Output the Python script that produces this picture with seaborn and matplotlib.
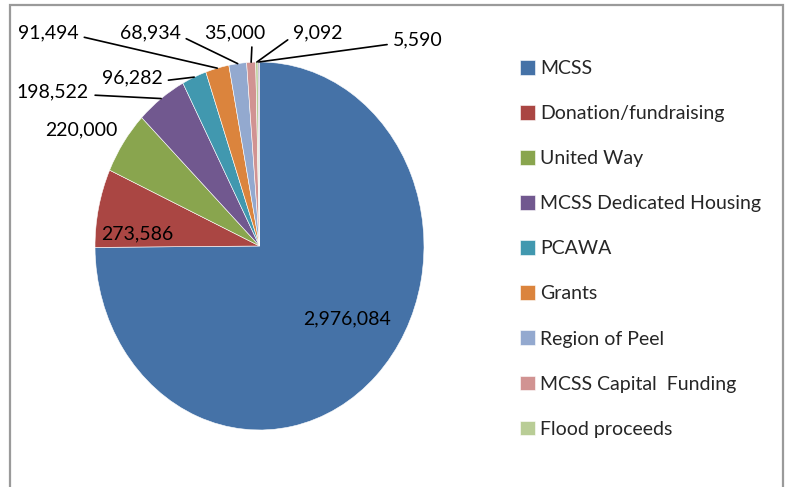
import matplotlib
matplotlib.use("Agg")
import matplotlib.pyplot as plt
from matplotlib.patches import Rectangle
import numpy as np
import seaborn as sns

# data
sources = ["MCSS", "Donation/fundraising", "United Way", "MCSS Dedicated Housing",
           "PCAWA", "Grants", "Region of Peel", "MCSS Capital  Funding",
           "Flood proceeds", ""]
amounts = [2976084, 273586, 220000, 198522, 96282, 91494, 68934, 35000, 9092, 5590]
colors = ["#4572A7", "#AA4643", "#89A54E", "#71588F", "#4198AF",
          "#DB843D", "#93A9CF", "#D19392", "#B9CD96", "#A99BBD"]

# label anchor (figure pixels, baseline) and where the leader line leaves the text
label_pos = [(347, 163), (137, 248), (81, 352), (53, 390), (132, 404),
             (48, 449), (150, 449), (235, 449), (318, 449), (418, 442)]
leader = [None, None, None, (1, 0.3), (1, 0.3),
          (1, 0.3), (1, 0.3), (0.78, 0.0), (0, 0.3), (0, 0.25)]

sns.set_theme(style="white")
plt.rcParams["font.family"] = ["Lato", "DejaVu Sans"]

W, H = 789, 487
fig = plt.figure(figsize=(W / 100, H / 100), dpi=100)
ax = fig.add_axes([0, 0, 1, 1])

wedges, _ = ax.pie(amounts, colors=colors, startangle=90, counterclock=False,
                   wedgeprops=dict(edgecolor="white", linewidth=0.4))
# pie centre (259.5, 246) px from top, radii 164.5 x 184 px
cx, cy, rx, ry = 259.5, 246, 164.5, 184
ax.set_aspect("auto")
ax.set_xlim(-cx / rx, (W - cx) / rx)
ax.set_ylim(-(H - cy) / ry, cy / ry)
ax.axis("off")

for w, val, pos, rel in zip(wedges, amounts, label_pos, leader):
    mid = np.deg2rad((w.theta1 + w.theta2) / 2)
    txt = f"{val:,}"
    if rel is None:
        ax.annotate(txt, xy=(0, 0), xytext=pos, textcoords="figure pixels",
                    ha="center", va="baseline", fontsize=14, color="black")
    else:
        ax.annotate(txt, xy=(np.cos(mid), np.sin(mid)), xycoords="data",
                    xytext=pos, textcoords="figure pixels",
                    ha="center", va="baseline", fontsize=14, color="black",
                    arrowprops=dict(arrowstyle="-", color="black", lw=1.2,
                                    shrinkA=2, shrinkB=0, relpos=rel))

fig.legend(wedges[:9], sources[:9], loc="upper left",
           bbox_to_anchor=(520 / W, (H - 60) / H), bbox_transform=fig.transFigure,
           frameon=False, fontsize=14, borderpad=0, borderaxespad=0,
           handlelength=0.78, handleheight=0.78, handletextpad=0.26,
           labelspacing=1.44)

# outer chart frame
fig.add_artist(Rectangle((10 / W, -0.1), (783 - 10) / W, (H - 5) / H + 0.1,
                         transform=fig.transFigure, fill=False,
                         edgecolor="#9a9a9a", linewidth=1.6))

plt.savefig("out.png", dpi=100)
plt.close()
